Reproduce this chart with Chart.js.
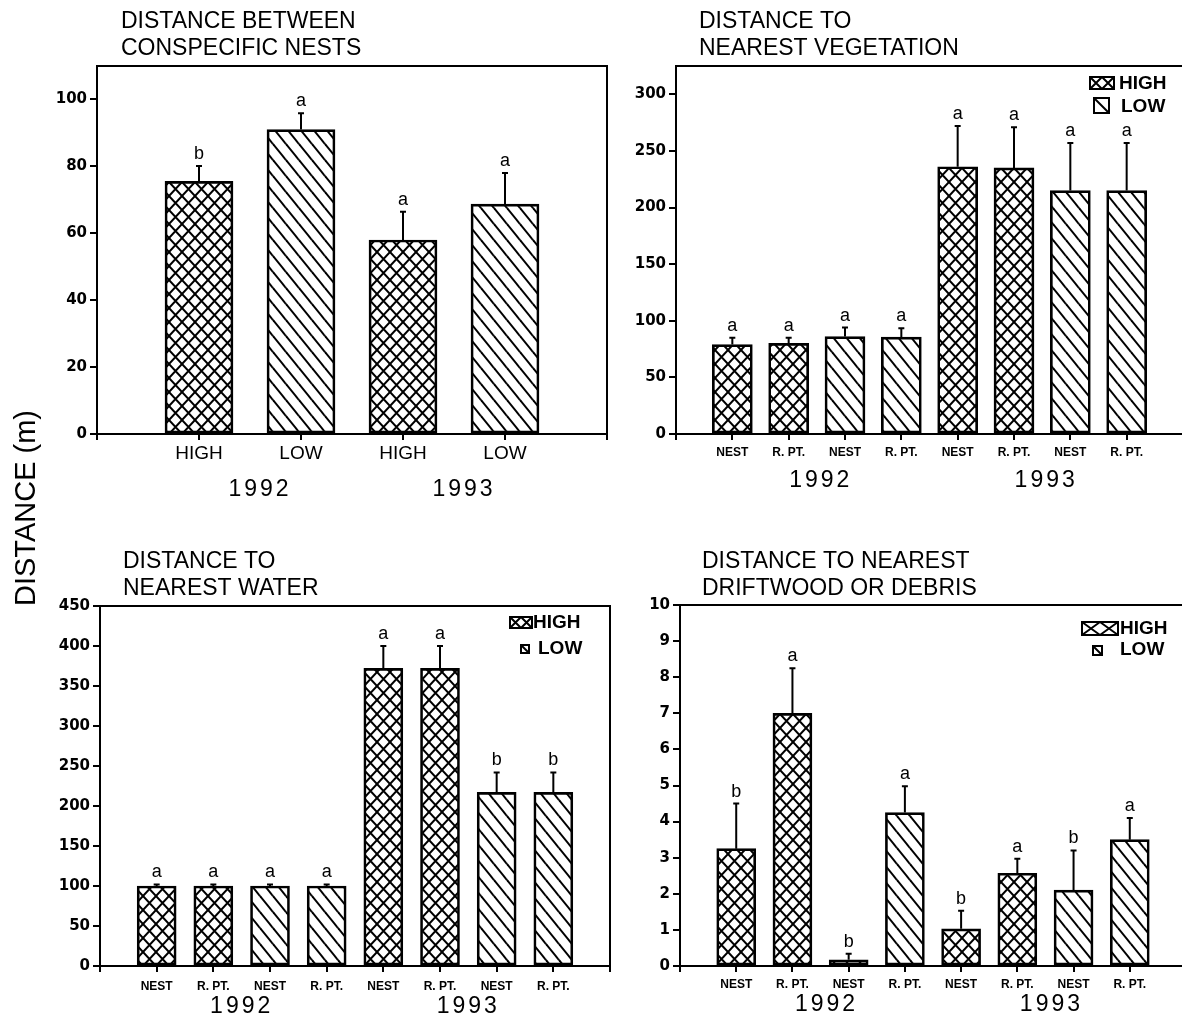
<!DOCTYPE html>
<html>
<head>
<meta charset="utf-8">
<script src="https://cdn.jsdelivr.net/npm/chart.js@4.4.1/dist/chart.umd.min.js"></script>
<style>
  html, body { margin: 0; padding: 0; background: #fff; overflow: hidden; }
  #wrap { position: relative; width: 1182px; height: 1029px; overflow: hidden; }
  #wrap canvas { position: absolute; left: 0; top: 0; }
</style>
</head>
<body>
<div id="wrap">
  <canvas id="nests" width="1190" height="1029"></canvas>
  <canvas id="veg" width="1190" height="1029"></canvas>
  <canvas id="water" width="1190" height="1029"></canvas>
  <canvas id="drift" width="1190" height="1029"></canvas>
</div>
<script>
// ---- data ----
const yAxisTitle = 'DISTANCE (m)';
const legendLabels = ['HIGH', 'LOW'];

// panel 1: distance between conspecific nests
const nestTitle = ['DISTANCE BETWEEN', 'CONSPECIFIC NESTS'];
const nestLabels = ['HIGH', 'LOW', 'HIGH', 'LOW'];
const nestGroups = ['HIGH', 'LOW', 'HIGH', 'LOW'];
const nestYears = ['1992', '1992', '1993', '1993'];
const nestMeans = [75.5, 91, 58, 68.7];
const nestErrors = [4.6, 4.9, 8.4, 9.3];
const nestLetters = ['b', 'a', 'a', 'a'];
const nestTicks = [0, 20, 40, 60, 80, 100];

// panels 2-4 share the same categories
const siteLabels = ['NEST', 'R. PT.', 'NEST', 'R. PT.', 'NEST', 'R. PT.', 'NEST', 'R. PT.'];
const siteGroups = ['HIGH', 'HIGH', 'LOW', 'LOW', 'HIGH', 'HIGH', 'LOW', 'LOW'];
const siteYears = ['1992', '1992', '1992', '1992', '1993', '1993', '1993', '1993'];

// panel 2: nearest vegetation
const vegTitle = ['DISTANCE TO', 'NEAREST VEGETATION'];
const vegMeans = [79, 80, 86, 85.5, 236, 235, 215, 215];
const vegErrors = [6, 5, 8, 8, 36, 36, 42, 42];
const vegLetters = ['a', 'a', 'a', 'a', 'a', 'a', 'a', 'a'];
const vegTicks = [0, 50, 100, 150, 200, 250, 300];

// panel 3: nearest water
const waterTitle = ['DISTANCE TO', 'NEAREST WATER'];
const waterMeans = [100, 100, 100, 100, 372, 372, 217, 217];
const waterErrors = [2, 2, 2, 2, 28, 28, 25, 25];
const waterLetters = ['a', 'a', 'a', 'a', 'a', 'a', 'b', 'b'];
const waterTicks = [0, 50, 100, 150, 200, 250, 300, 350, 400, 450];

// panel 4: nearest driftwood or debris
const driftTitle = ['DISTANCE TO NEAREST', 'DRIFTWOOD OR DEBRIS'];
const driftMeans = [3.25, 7.0, 0.17, 4.25, 1.03, 2.57, 2.1, 3.5];
const driftErrors = [1.25, 1.25, 0.17, 0.73, 0.5, 0.4, 1.1, 0.6];
const driftLetters = ['b', 'a', 'b', 'a', 'b', 'a', 'b', 'a'];
const driftTicks = [0, 1, 2, 3, 4, 5, 6, 7, 8, 9, 10];

const CW = 1190, CH = 1029;
const FONT = 'Liberation Sans, Arial, sans-serif';

// hatch fills: crosshatch for HIGH, diagonal for LOW
function makePattern(ctx, kind) {
  const tile = document.createElement('canvas');
  const w = 13, h = kind === 'HIGH' ? 14 : 16;
  tile.width = w; tile.height = h;
  const g = tile.getContext('2d');
  g.strokeStyle = '#000';
  g.lineWidth = 2;
  for (let dx = -w; dx <= w; dx += w) {
    for (let dy = -h; dy <= h; dy += h) {
      g.beginPath();
      g.moveTo(dx, dy); g.lineTo(dx + w, dy + h);
      if (kind === 'HIGH') { g.moveTo(dx + w, dy); g.lineTo(dx, dy + h); }
      g.stroke();
    }
  }
  return ctx.createPattern(tile, 'repeat');
}

// titles, error bars, letters, years, legend, frame
const panelPlugin = {
  id: 'panel',
  afterDatasetsDraw(chart, args, opts) {
    const { ctx, chartArea: a } = chart;
    const xs = chart.scales.x, ys = chart.scales.y;
    ctx.save();
    ctx.strokeStyle = '#000';
    ctx.fillStyle = '#000';
    ctx.lineWidth = 2;
    // error bars
    opts.means.forEach((m, i) => {
      const px = xs.getPixelForValue(i + 1);
      const yTop = ys.getPixelForValue(m);
      const yCap = ys.getPixelForValue(m + opts.errors[i]);
      ctx.beginPath();
      ctx.moveTo(px, yTop); ctx.lineTo(px, yCap);
      ctx.moveTo(px - 3, yCap); ctx.lineTo(px + 3, yCap);
      ctx.stroke();
      ctx.font = '18px ' + FONT;
      ctx.textAlign = 'center';
      ctx.textBaseline = 'bottom';
      ctx.fillText(opts.letters[i], px, yCap - 3);
    });
    // frame
    ctx.strokeRect(a.left, a.top, a.right - a.left, a.bottom - a.top);
    ctx.restore();
  },
  afterDraw(chart, args, opts) {
    const { ctx } = chart;
    const xs = chart.scales.x;
    ctx.save();
    ctx.fillStyle = '#000';
    ctx.strokeStyle = '#000';
    // title
    ctx.font = '23px ' + FONT;
    ctx.textAlign = 'left';
    ctx.textBaseline = 'middle';
    opts.title.forEach((line, k) => ctx.fillText(line, opts.titleX, opts.titleY + k * 27));
    // years under each group
    ctx.font = '23px ' + FONT;
    ctx.textAlign = 'center';
    ctx.letterSpacing = '3px';
    [...new Set(opts.years)].forEach(yr => {
      const px = opts.years.map((y, i) => y === yr ? xs.getPixelForValue(i + 1) : null).filter(v => v !== null);
      const cx = (Math.min(...px) + Math.max(...px)) / 2 + opts.yearShift;
      ctx.fillText(yr, cx, opts.yearY);
    });
    ctx.letterSpacing = '0px';
    // legend
    if (opts.legend) {
      const L = opts.legend;
      ctx.lineWidth = 2;
      const b1 = L.box1, b2 = L.box2;
      ctx.strokeRect(b1[0], b1[1], b1[2], b1[3]);
      const half = b1[2] / 2;
      ctx.beginPath();
      [0, half].forEach(off => {
        ctx.moveTo(b1[0] + off, b1[1]); ctx.lineTo(b1[0] + off + half, b1[1] + b1[3]);
        ctx.moveTo(b1[0] + off + half, b1[1]); ctx.lineTo(b1[0] + off, b1[1] + b1[3]);
      });
      ctx.stroke();
      ctx.strokeRect(b2[0], b2[1], b2[2], b2[3]);
      ctx.beginPath();
      ctx.moveTo(b2[0], b2[1]); ctx.lineTo(b2[0] + b2[2], b2[1] + b2[3]);
      ctx.stroke();
      ctx.font = 'bold 19px ' + FONT;
      ctx.textAlign = 'left';
      ctx.textBaseline = 'middle';
      ctx.fillText(legendLabels[0], L.text1[0], L.text1[1]);
      ctx.fillText(legendLabels[1], L.text2[0], L.text2[1]);
    }
    // shared y-axis title
    if (opts.yTitle) {
      ctx.translate(27, 508);
      ctx.rotate(-Math.PI / 2);
      ctx.font = '29px ' + FONT;
      ctx.textAlign = 'center';
      ctx.textBaseline = 'middle';
      ctx.fillText(yAxisTitle, 0, 0);
    }
    ctx.restore();
  }
};

function buildChart(id, cfg) {
  const ctx = document.getElementById(id).getContext('2d');
  const patterns = { HIGH: makePattern(ctx, 'HIGH'), LOW: makePattern(ctx, 'LOW') };
  const n = cfg.means.length;
  const area = cfg.area;
  return new Chart(ctx, {
    type: 'bar',
    data: {
      datasets: [{
        data: cfg.means.map((v, i) => ({ x: i + 1, y: v })),
        backgroundColor: cfg.groups.map(g => patterns[g]),
        borderColor: '#000',
        borderWidth: 2,
        borderSkipped: false,
        barThickness: cfg.barWidth
      }]
    },
    options: {
      responsive: false,
      animation: false,
      events: [],
      layout: {
        padding: { left: area.left - 70, right: CW - area.right, top: area.top, bottom: CH - area.bottom - 70 }
      },
      plugins: {
        legend: { display: false },
        tooltip: { enabled: false },
        panel: cfg
      },
      scales: {
        x: {
          type: 'linear',
          min: 0,
          max: n + 1,
          offset: false,
          afterBuildTicks: s => { s.ticks = [0, ...cfg.labels.map((_, i) => i + 1), n + 1].map(v => ({ value: v })); },
          afterFit: s => { s.height = 70; s.paddingLeft = 0; s.paddingRight = 0; },
          ticks: {
            autoSkip: false,
            maxRotation: 0,
            color: '#000',
            padding: cfg.tickPad,
            font: cfg.tickFont,
            callback: v => cfg.labels[v - 1] || ''
          },
          grid: { drawOnChartArea: false, offset: false, tickLength: 6, lineWidth: 2, color: '#000' },
          border: { display: false }
        },
        y: {
          min: 0,
          max: cfg.max,
          afterBuildTicks: s => { s.ticks = cfg.ticks.map(v => ({ value: v })); },
          afterFit: s => { s.width = 70; s.paddingTop = 0; s.paddingBottom = 0; },
          ticks: { color: '#000', padding: 3, font: { family: 'DejaVu Sans', weight: 'bold', size: 15 } },
          grid: { drawOnChartArea: false, tickLength: 7, lineWidth: 2, color: '#000' },
          border: { display: false }
        }
      }
    },
    plugins: [panelPlugin]
  });
}

const smallTick = { family: FONT, size: 12, weight: 'bold' };

buildChart('nests', {
  area: { left: 97, right: 607, top: 66, bottom: 434 },
  max: 110, ticks: nestTicks, barWidth: 68,
  labels: nestLabels, groups: nestGroups, years: nestYears,
  means: nestMeans, errors: nestErrors, letters: nestLetters,
  tickFont: { family: FONT, size: 19 }, tickPad: 2,
  title: nestTitle, titleX: 121, titleY: 22,
  yearY: 490, yearShift: 10, yTitle: true
});

buildChart('veg', {
  area: { left: 676, right: 1183, top: 66, bottom: 434 },
  max: 325, ticks: vegTicks, barWidth: 40,
  labels: siteLabels, groups: siteGroups, years: siteYears,
  means: vegMeans, errors: vegErrors, letters: vegLetters,
  tickFont: smallTick, tickPad: 5,
  title: vegTitle, titleX: 699, titleY: 22,
  yearY: 481, yearShift: 4,
  legend: { box1: [1090, 77, 24, 12], box2: [1094, 98, 15, 15], text1: [1119, 84], text2: [1121, 107] }
});

buildChart('water', {
  area: { left: 100, right: 610, top: 606, bottom: 966 },
  max: 450, ticks: waterTicks, barWidth: 39,
  labels: siteLabels, groups: siteGroups, years: siteYears,
  means: waterMeans, errors: waterErrors, letters: waterLetters,
  tickFont: smallTick, tickPad: 7,
  title: waterTitle, titleX: 123, titleY: 562,
  yearY: 1007, yearShift: 0,
  legend: { box1: [510, 617, 22, 11], box2: [521, 645, 8, 8], text1: [533, 623], text2: [538, 649] }
});

buildChart('drift', {
  area: { left: 680, right: 1186, top: 605, bottom: 966 },
  max: 10, ticks: driftTicks, barWidth: 39,
  labels: siteLabels, groups: siteGroups, years: siteYears,
  means: driftMeans, errors: driftErrors, letters: driftLetters,
  tickFont: smallTick, tickPad: 5,
  title: driftTitle, titleX: 702, titleY: 562,
  yearY: 1005, yearShift: 6,
  legend: { box1: [1082, 622, 36, 13], box2: [1093, 646, 9, 9], text1: [1120, 629], text2: [1120, 650] }
});
</script>
</body>
</html>
